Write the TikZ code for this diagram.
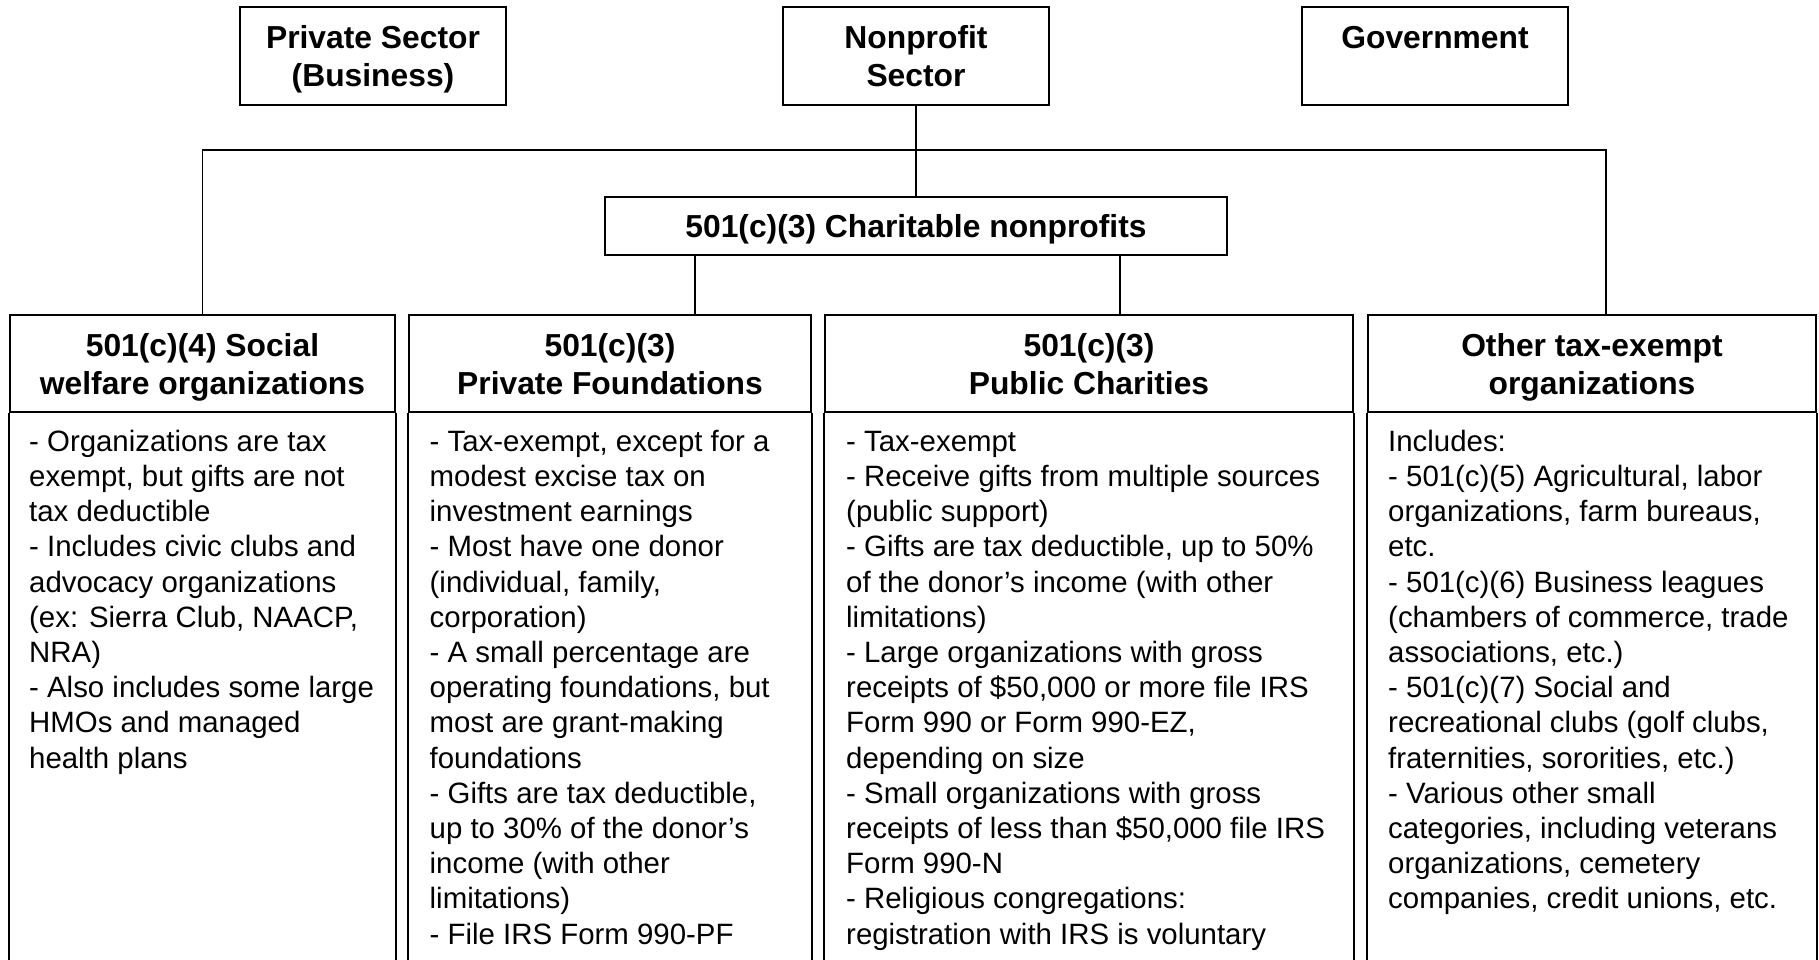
\documentclass[tikz,border=0pt]{standalone}
\usepackage{fontspec}
\setmainfont{Liberation Sans}
\newcommand{\nodepth}[1]{\raisebox{0pt}[\height][0pt]{#1}}
\begin{document}
\begin{tikzpicture}[x=1pt,y=-1pt,
  box/.style={draw=black, line width=1.8pt, inner sep=0pt, align=center,
    font=\fontsize{31.8}{38}\selectfont\bfseries},
  frame/.style={draw=black, line width=1.8pt},
  conn/.style={draw=black, line width=1.3pt},
  bodytext/.style={inner sep=0pt, anchor=north west, align=left,
    font=\fontsize{29.4}{35.2}\selectfont}]
\useasboundingbox (0,0) rectangle (1819,960);
\fill[white] (0,0) rectangle (1819,960);

% top row
\node[box, minimum width=266pt, minimum height=98pt] (priv) at (373,56) {Private Sector\\\nodepth{(Business)}};
\node[box, minimum width=266pt, minimum height=98pt] (nonp) at (916,56) {Nonprofit\\Sector};
\node[box, minimum width=266pt, minimum height=98pt] (gov) at (1435,56) {Government\\\mbox{}};

% charitable
\node[box, minimum width=622pt, minimum height=58pt] (chr) at (916,226) {\nodepth{501(c)(3) Charitable nonprofits}};

% headers
\node[box, minimum width=385pt, minimum height=97pt] (h1) at (202.5,363.5) {501(c)(4) Social\\\nodepth{welfare organizations}};
\node[box, minimum width=402pt, minimum height=97pt] (h2) at (610,363.5) {501(c)(3)\\\nodepth{Private Foundations}};
\node[box, minimum width=528pt, minimum height=97pt] (h3) at (1089,363.5) {501(c)(3)\\\nodepth{Public Charities}};
\node[box, minimum width=448pt, minimum height=97pt] (h4) at (1592,363.5) {Other tax-exempt\\\nodepth{organizations}};

% body frames (open at the bottom edge)
\foreach \h in {h1,h2,h3,h4}{
  \draw[frame] (\h.south west) -- ++(0,600);
  \draw[frame] (\h.south east) -- ++(0,600);
}

% connector coordinates
\coordinate (busL) at (202.5,150);
\coordinate (busR) at (1606,150);
\coordinate (c2) at (695,255);
\coordinate (c3) at (1120,255);

\draw[conn] (nonp.south) -- (chr.north);
\draw[conn] (h1.north) -- (busL) -- (busR) -- (busR |- h4.north);
\draw[conn] (c2) -- (c2 |- h2.north);
\draw[conn] (c3) -- (c3 |- h3.north);

% body texts
\node[bodytext] (t1) at (29,426.4) {\strut- Organizations are tax\\
exempt, but gifts are not\\
tax deductible\\
- Includes civic clubs and\\
advocacy organizations\\
(ex: Sierra Club, NAACP,\\
NRA)\\
- Also includes some large\\
HMOs and managed\\
health plans};

\node[bodytext] (t2) at (429.5,426.4) {\strut- Tax-exempt, except for a\\
modest excise tax on\\
investment earnings\\
- Most have one donor\\
(individual, family,\\
corporation)\\
- A small percentage are\\
operating foundations, but\\
most are grant-making\\
foundations\\
- Gifts are tax deductible,\\
up to 30\% of the donor’s\\
income (with other\\
limitations)\\
- File IRS Form 990-PF};

\node[bodytext] (t3) at (846,426.4) {\strut- Tax-exempt\\
- Receive gifts from multiple sources\\
(public support)\\
- Gifts are tax deductible, up to 50\%\\
of the donor’s income (with other\\
limitations)\\
- Large organizations with gross\\
receipts of \$50,000 or more file IRS\\
Form 990 or Form 990-EZ,\\
depending on size\\
- Small organizations with gross\\
receipts of less than \$50,000 file IRS\\
Form 990-N\\
- Religious congregations:\\
registration with IRS is voluntary};

\node[bodytext] (t4) at (1388,426.4) {\strut Includes:\\
- 501(c)(5) Agricultural, labor\\
organizations, farm bureaus,\\
etc.\\
- 501(c)(6) Business leagues\\
(chambers of commerce, trade\\
associations, etc.)\\
- 501(c)(7) Social and\\
recreational clubs (golf clubs,\\
fraternities, sororities, etc.)\\
- Various other small\\
categories, including veterans\\
organizations, cemetery\\
companies, credit unions, etc.};
\end{tikzpicture}
\end{document}
